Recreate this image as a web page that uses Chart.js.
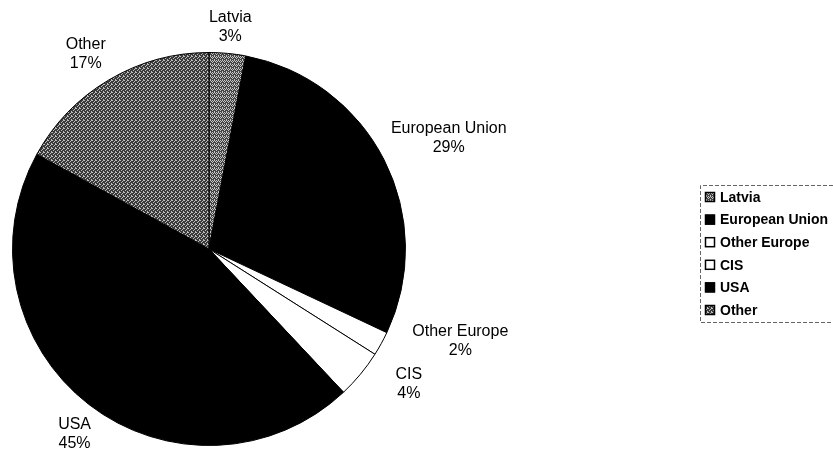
<!DOCTYPE html>
<html>
<head>
<meta charset="utf-8">
<script src="https://cdn.jsdelivr.net/npm/chart.js@4/dist/chart.umd.min.js"></script>
<style>
  html, body { margin: 0; padding: 0; background: #fff; }
  #wrap { width: 833px; height: 450px; }
</style>
</head>
<body>
<div id="wrap"><canvas id="pieChart" width="833" height="450"></canvas></div>
<script>
// data
const regions = ['Latvia', 'European Union', 'Other Europe', 'CIS', 'USA', 'Other'];
const shares = [3, 29, 2, 4, 45, 17];

// small nudges for the outside labels (Excel pushes the small ones apart)
const labelNudge = [[0, 0], [6, -10], [30, -15], [32, -7], [1, 9], [-9, -3]];

const canvas = document.getElementById('pieChart');
const ctx = canvas.getContext('2d');

// stippled grey fills like the scanned original
function stipple(base, dot, cells) {
  const t = document.createElement('canvas');
  t.width = 4; t.height = 4;
  const g = t.getContext('2d');
  g.fillStyle = base;
  g.fillRect(0, 0, 4, 4);
  g.fillStyle = dot;
  cells.forEach(([x, y]) => g.fillRect(x, y, 1, 1));
  return ctx.createPattern(t, 'repeat');
}

const latviaFill = stipple('#444', '#c8c8c8', [[0, 0], [2, 0], [1, 1], [3, 1], [0, 2], [2, 3]]);
const otherFill = stipple('#3a3a3a', '#bdbdbd', [[0, 0], [2, 1], [1, 2], [3, 3], [3, 0]]);
const sliceColors = [latviaFill, '#000', '#fff', '#fff', '#000', otherFill];

const pieLabels = {
  id: 'pieLabels',
  afterDatasetsDraw(chart) {
    const c = chart.ctx;
    const arcs = chart.getDatasetMeta(0).data;
    const total = shares.reduce((a, b) => a + b, 0);
    c.save();
    c.font = '16px "Liberation Sans", Arial, sans-serif';
    c.fillStyle = '#000';
    c.textAlign = 'center';
    c.textBaseline = 'middle';
    arcs.forEach((arc, i) => {
      const p = arc.getProps(['x', 'y', 'startAngle', 'endAngle', 'outerRadius'], true);
      const mid = (p.startAngle + p.endAngle) / 2;
      const ux = Math.cos(mid), uy = Math.sin(mid);
      const w = c.measureText(regions[i]).width;
      const h = 36;
      const r = p.outerRadius + 8;
      const cx = p.x + r * ux + ux * w / 2 + labelNudge[i][0];
      const cy = p.y + r * uy + uy * h / 2 + labelNudge[i][1];
      c.fillText(regions[i], cx, cy - 9.5);
      c.fillText(Math.round(shares[i] / total * 100) + '%', cx, cy + 9.5);
    });
    c.restore();
  }
};

const boxLegend = {
  id: 'boxLegend',
  afterDraw(chart) {
    const c = chart.ctx;
    c.save();
    // frame, cut off at the right edge
    c.strokeStyle = '#666';
    c.lineWidth = 1;
    c.setLineDash([4, 2]);
    c.beginPath();
    c.moveTo(833, 185.5);
    c.lineTo(700.5, 185.5);
    c.lineTo(700.5, 322.5);
    c.lineTo(833, 322.5);
    c.stroke();
    c.setLineDash([]);

    c.font = 'bold 14px "Liberation Sans", Arial, sans-serif';
    c.textBaseline = 'middle';
    c.textAlign = 'left';
    regions.forEach((name, i) => {
      const y = 197 + i * 22.6;
      c.fillStyle = sliceColors[i];
      c.fillRect(705, y - 5, 10, 10);
      c.strokeStyle = '#000';
      c.lineWidth = 1.5;
      c.strokeRect(705.5, y - 4.5, 9, 9);
      c.fillStyle = '#000';
      c.fillText(name, 720, y + 1);
    });
    c.restore();
  }
};

new Chart(canvas, {
  type: 'pie',
  data: {
    labels: regions,
    datasets: [{
      data: shares,
      backgroundColor: sliceColors,
      borderColor: '#000',
      borderWidth: 1
    }]
  },
  options: {
    responsive: false,
    animation: false,
    rotation: 0,
    layout: { padding: { left: 12, right: 427, top: 52, bottom: 4 } },
    plugins: {
      legend: { display: false },
      tooltip: { enabled: false },
      title: { display: false }
    }
  },
  plugins: [pieLabels, boxLegend]
});
</script>
</body>
</html>
